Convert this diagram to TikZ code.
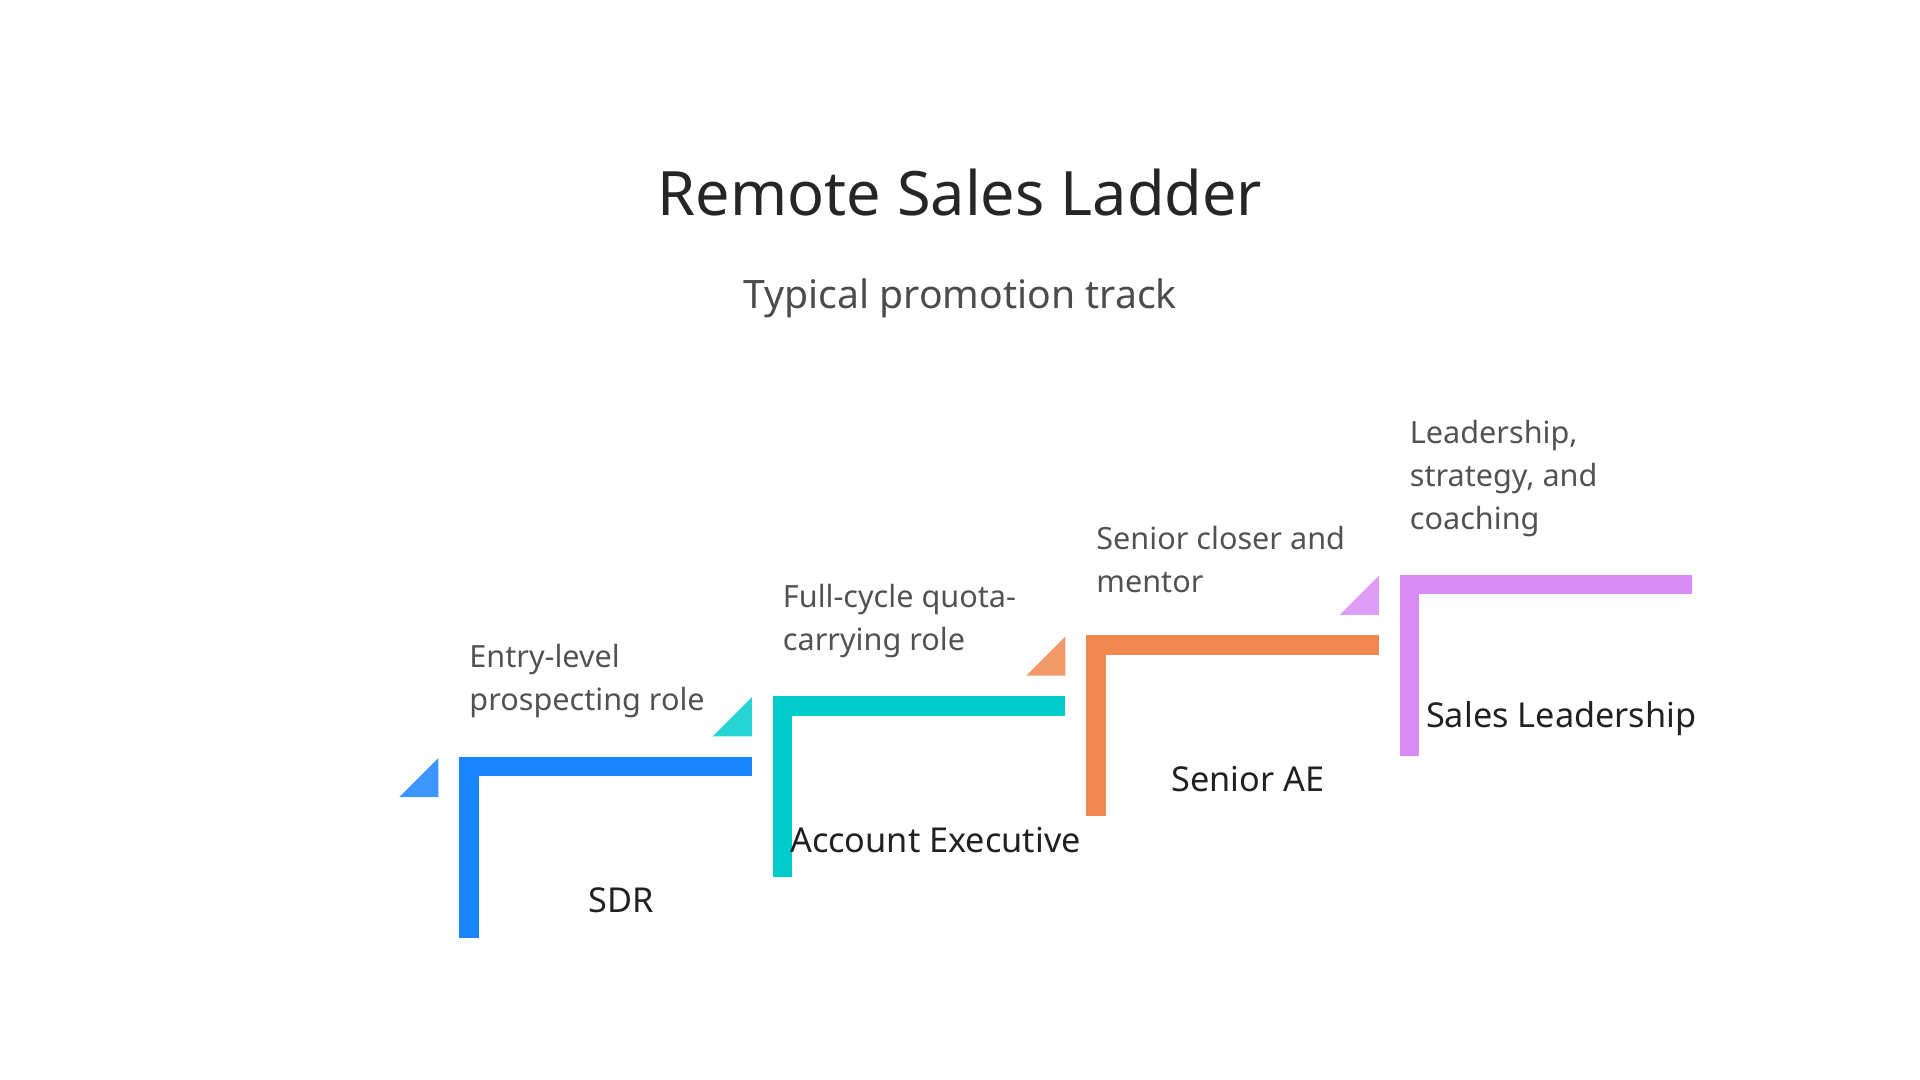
\documentclass[tikz,border=0pt]{standalone}
\usepackage{fontspec}
\setmainfont{Noto Sans}
\begin{document}
\begin{tikzpicture}[x=0.5pt,y=-0.5pt,
  desc/.style={anchor=west,text=black!68,font=\fontsize{12.5}{17.5}\selectfont,align=left,inner sep=0},
  role/.style={text=black!87,font=\bfseries\fontsize{14}{17}\selectfont,inner sep=0}]
\useasboundingbox (0,0) rectangle (1568,882);
\node (title) at (784,157) {\fontsize{25}{30}\selectfont\color{black!85}Remote Sales Ladder};
\node (sub) at (784,244) {\fontsize{16}{20}\selectfont\color{black!70}Typical promotion track};
\definecolor{c1}{HTML}{1A85FF}\definecolor{c2}{HTML}{00CCCC}
\definecolor{c3}{HTML}{F0884F}\definecolor{c4}{HTML}{D98CF5}
\foreach \i/\c in {0/c1,1/c2,2/c3,3/c4}{
  \pgfmathsetmacro\x{375+256*\i}
  \pgfmathsetmacro\y{618-49.6*\i}
  \fill[\c] (\x,\y) rectangle (\x+16,\y+148);
  \fill[\c] (\x,\y) rectangle (\x+239,\y+16);
  \fill[\c!85!white] (\x-49,\y+33) -- (\x-17,\y+33) -- (\x-17,\y+1) -- cycle;
}
\node[desc] (d1) at (383,556) {Entry-level\\prospecting role};
\node[desc] (d2) at (639,507) {Full-cycle quota-\\carrying role};
\node[desc] (d3) at (895,457) {Senior closer and\\mentor};
\node[desc] (d4) at (1151,391) {Leadership,\\strategy, and\\coaching};
\node[role] (r1) at (507,735) {SDR};
\node[role] (r2) at (764,686) {Account Executive};
\node[role] (r3) at (1019,636) {Senior AE};
\node[role] (r4) at (1275,587) {Sales Leadership};
\end{tikzpicture}
\end{document}
